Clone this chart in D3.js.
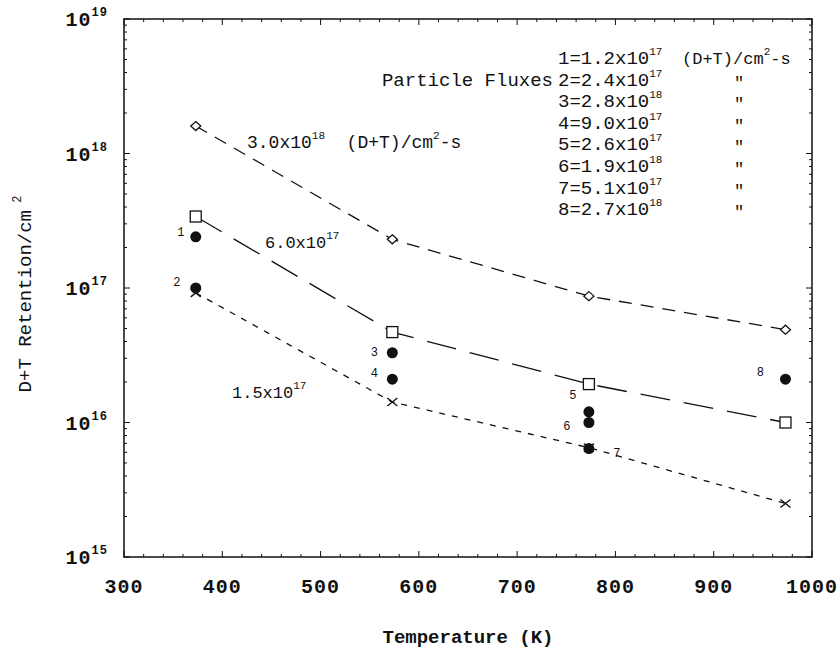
<!DOCTYPE html>
<html>
<head>
<meta charset="utf-8">
<script src="https://cdn.jsdelivr.net/npm/d3@7"></script>
<style>
    body { margin: 0; background: #fff; }
    svg text { font-family: "Liberation Mono", "DejaVu Sans Mono", monospace; fill: #111; white-space: pre; }
</style>
</head>
<body>
<svg id="chart" width="839" height="652"></svg>
<script>
// data
const temps = [373, 573, 773, 973];
const diamondVals = [1.6e18, 2.3e17, 8.7e16, 4.9e16];   // 3.0x10^18 flux
const squareVals = [3.4e17, 4.7e16, 1.93e16, 1.0e16];   // 6.0x10^17 flux
const crossVals = [9.2e16, 1.42e16, 6.5e15, 2.5e15];    // 1.5x10^17 flux

const pointIds = ['1', '2', '3', '4', '5', '6', '7', '8'];
const pointTemps = [373, 373, 573, 573, 773, 773, 773, 973];
const pointVals = [2.4e17, 1.0e17, 3.3e16, 2.1e16, 1.2e16, 1.0e16, 6.4e15, 2.1e16];

const fluxMantissa = ['1.2', '2.4', '2.8', '9.0', '2.6', '1.9', '5.1', '2.7'];
const fluxExponent = ['17', '17', '18', '17', '17', '18', '17', '18'];

const xTicks = [300, 400, 500, 600, 700, 800, 900, 1000];
const yTicks = [1e15, 1e16, 1e17, 1e18, 1e19];

// layout
const margin = { left: 124, right: 27, top: 19, bottom: 95 };
const W = 839, H = 652;

const x = d3.scaleLinear().domain([300, 1000]).range([margin.left, W - margin.right]);
const y = d3.scaleLog().domain([1e15, 1e19]).range([H - margin.bottom, margin.top]);

const svg = d3.select('#chart');

// text with superscripts: segments = [[text, isSup], ...]
function richText(sel, segments, supSize, lift) {
    let up = false;
    segments.forEach(([t, sup]) => {
        const ts = sel.append('tspan').text(t);
        if (sup && !up) { ts.attr('dy', -lift).style('font-size', supSize + 'px'); up = true; }
        else if (sup) { ts.style('font-size', supSize + 'px'); }
        else if (up) { ts.attr('dy', lift); up = false; }
    });
    return sel;
}

// frame
const x0 = x(300), x1 = x(1000), yb = y(1e15), yt = y(1e19);
svg.append('rect')
    .attr('x', x0).attr('y', yt)
    .attr('width', x1 - x0).attr('height', yb - yt)
    .attr('fill', 'none').attr('stroke', '#111').attr('stroke-width', 1.5);

// minor ticks, inward on every side
const xMinor = d3.range(300, 1001, 20);
const yMinor = [];
[15, 16, 17, 18].forEach(e => d3.range(1, 10).forEach(m => yMinor.push(m * Math.pow(10, e))));
yMinor.push(1e19);

const ticks = svg.append('g').attr('stroke', '#111').attr('stroke-width', 1);
xMinor.forEach(v => {
    const len = v % 100 === 0 ? 6 : 3;
    ticks.append('line').attr('x1', x(v)).attr('x2', x(v)).attr('y1', yb).attr('y2', yb - len);
    ticks.append('line').attr('x1', x(v)).attr('x2', x(v)).attr('y1', yt).attr('y2', yt + len);
});
yMinor.forEach(v => {
    const len = yTicks.includes(v) ? 6 : 3;
    ticks.append('line').attr('y1', y(v)).attr('y2', y(v)).attr('x1', x0).attr('x2', x0 + len);
    ticks.append('line').attr('y1', y(v)).attr('y2', y(v)).attr('x1', x1).attr('x2', x1 - len);
});

// x tick labels
svg.append('g').selectAll('text').data(xTicks).enter().append('text')
    .attr('x', d => x(d)).attr('y', yb + 36)
    .attr('text-anchor', 'middle')
    .style('font-size', '20px').style('font-weight', 'bold').style('letter-spacing', '1px')
    .text(d => d);

// y tick labels 10^n
yTicks.forEach(v => {
    const t = svg.append('text')
        .attr('x', 108).attr('y', y(v) + 7)
        .attr('text-anchor', 'end')
        .style('font-size', '20px').style('font-weight', 'bold').style('letter-spacing', '1px');
    richText(t, [['10', false], [String(Math.round(Math.log10(v))), true]], 12, 10);
});

// axis titles
svg.append('text')
    .attr('x', x(650)).attr('y', 643)
    .attr('text-anchor', 'middle')
    .style('font-size', '19px').style('font-weight', 'bold')
    .text('Temperature (K)');

const yt2 = svg.append('text')
    .attr('transform', `translate(31,${(yt + yb) / 2 + 6}) rotate(-90)`)
    .attr('text-anchor', 'middle')
    .style('font-size', '19px');
richText(yt2, [['D+T Retention/cm', false], [' 2', true]], 12, 10);

// curves
const line = d3.line().x(d => x(d[0])).y(d => y(d[1]));
const curves = [
    { vals: diamondVals, dash: '13,9' },
    { vals: squareVals, dash: '30,14' },
    { vals: crossVals, dash: '6,7' }
];
curves.forEach(c => {
    svg.append('path')
        .datum(temps.map((t, i) => [t, c.vals[i]]))
        .attr('d', line)
        .attr('fill', 'none').attr('stroke', '#111').attr('stroke-width', 1.3)
        .attr('stroke-dasharray', c.dash);
});

// markers
svg.append('g').selectAll('path').data(temps).enter().append('path')
    .attr('transform', (d, i) => `translate(${x(d)},${y(diamondVals[i])})`)
    .attr('d', 'M0,-4.5L5,0L0,4.5L-5,0Z')
    .attr('fill', '#fff').attr('stroke', '#111').attr('stroke-width', 1.3);

svg.append('g').selectAll('rect').data(temps).enter().append('rect')
    .attr('x', d => x(d) - 5.5).attr('y', (d, i) => y(squareVals[i]) - 5.5)
    .attr('width', 11).attr('height', 11)
    .attr('fill', '#fff').attr('stroke', '#111').attr('stroke-width', 1.3);

svg.append('g').selectAll('path').data(temps).enter().append('path')
    .attr('transform', (d, i) => `translate(${x(d)},${y(crossVals[i])})`)
    .attr('d', 'M-5,-4L5,4M-5,4L5,-4')
    .attr('stroke', '#111').attr('stroke-width', 1.4);

svg.append('g').selectAll('circle').data(pointVals).enter().append('circle')
    .attr('cx', (d, i) => x(pointTemps[i])).attr('cy', d => y(d))
    .attr('r', 5.5).attr('fill', '#111');

// point number labels (offsets in px from the dot)
const labelOffsets = [[-15, -1], [-19, -2], [-18, 3], [-18, -2], [-16, -13], [-22, 7], [28, 8], [-25, -3]];
svg.append('g').selectAll('text').data(pointIds).enter().append('text')
    .attr('x', (d, i) => x(pointTemps[i]) + labelOffsets[i][0])
    .attr('y', (d, i) => y(pointVals[i]) + labelOffsets[i][1])
    .attr('text-anchor', 'middle')
    .style('font-size', '12px')
    .text(d => d);

// curve annotations
const a1 = svg.append('text').attr('x', 247).attr('y', 148).style('font-size', '18px');
richText(a1, [['3.0x10', false], ['18', true], ['  (D+T)/cm', false], ['2', true], ['-s', false]], 11, 9);
const a2 = svg.append('text').attr('x', 265).attr('y', 248).style('font-size', '17px');
richText(a2, [['6.0x10', false], ['17', true]], 11, 9);
const a3 = svg.append('text').attr('x', 232).attr('y', 398).style('font-size', '17px');
richText(a3, [['1.5x10', false], ['17', true]], 11, 9);

// legend of particle fluxes
const legendX = 558, legendY = 64, rowH = 21.6;
pointIds.forEach((id, i) => {
    const t = svg.append('text').attr('x', legendX).attr('y', legendY + i * rowH).style('font-size', '19px');
    richText(t, [[`${id}=${fluxMantissa[i]}x10`, false], [fluxExponent[i], true]], 11, 9);
    if (i === 0) {
        const u = svg.append('text').attr('x', 682).attr('y', legendY).style('font-size', '17px');
        richText(u, [['(D+T)/cm', false], ['2', true], ['-s', false]], 11, 9);
    } else {
        svg.append('text').attr('x', 739).attr('y', legendY + i * rowH + 2)
            .attr('text-anchor', 'middle').style('font-size', '17px').text('"');
    }
});
svg.append('text')
    .attr('x', 553).attr('y', legendY + rowH)
    .attr('text-anchor', 'end').style('font-size', '19px')
    .text('Particle Fluxes');
</script>
</body>
</html>
